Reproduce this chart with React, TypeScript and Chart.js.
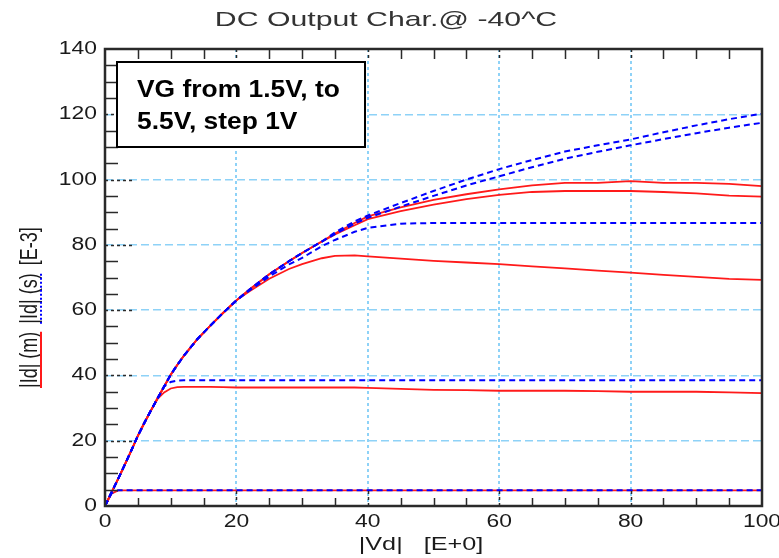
import React, { useEffect, useRef } from 'react';
import { Chart, registerables } from 'chart.js';

Chart.register(...registerables);

// ---------- data ----------
const chartTitle = 'DC Output Char.@ -40^C';
const xAxisTitle = '|Vd|   [E+0]';
const yAxisTitleParts = ['|Id| (m)', '|Id| (s)', '[E-3]'];
const legendLines = ['VG from 1.5V, to', '5.5V, step 1V'];
const xTicks = [0, 20, 40, 60, 80, 100];
const yTicks = [0, 20, 40, 60, 80, 100, 120, 140];

const vd = [0, 1, 2, 3, 4, 5, 6, 7, 8, 9, 10, 11, 12, 14, 16, 18, 20, 22, 25, 28, 30, 33, 35, 38, 40, 45, 50, 55, 60, 65, 70, 75, 80, 85, 90, 95, 100];

// measured |Id| (m) - red solid
const idM_VG15 = [0, 3.8, 4.8, 4.8, 4.8, 4.8, 4.8, 4.8, 4.8, 4.8, 4.8, 4.8, 4.8, 4.8, 4.8, 4.8, 4.8, 4.8, 4.8, 4.8, 4.8, 4.8, 4.8, 4.8, 4.8, 4.8, 4.8, 4.8, 4.8, 4.8, 4.8, 4.8, 4.8, 4.8, 4.8, 4.8, 4.8];
const idM_VG25 = [0, 4.2, 8.3, 12.6, 17, 21.5, 25.5, 29.3, 32.8, 34.8, 36, 36.4, 36.5, 36.5, 36.5, 36.4, 36.3, 36.3, 36.3, 36.3, 36.3, 36.3, 36.3, 36.3, 36.2, 35.9, 35.6, 35.5, 35.3, 35.3, 35.3, 35.2, 35.0, 35.0, 35.0, 34.8, 34.6];
const idM_VG35 = [0, 4.2, 8.3, 12.6, 17, 21.5, 25.5, 29.3, 33, 36.6, 40.2, 43.2, 46, 51, 55.2, 59.2, 63, 65.8, 69.6, 72.6, 74.1, 75.9, 76.6, 76.8, 76.5, 75.8, 75.1, 74.6, 74.1, 73.4, 72.8, 72.1, 71.5, 70.8, 70.2, 69.6, 69.3];
const idM_VG45 = [0, 4.2, 8.3, 12.6, 17, 21.5, 25.5, 29.3, 33, 36.6, 40.2, 43.2, 46, 51, 55.2, 59.2, 63, 66.3, 71, 75, 77.5, 81, 83.2, 86, 87.9, 90.3, 92.3, 94, 95.3, 96.2, 96.5, 96.5, 96.5, 96.2, 95.8, 95.1, 94.8];
const idM_VG55 = [0, 4.2, 8.3, 12.6, 17, 21.5, 25.5, 29.3, 33, 36.6, 40.2, 43.2, 46, 51, 55.2, 59.2, 63, 66.3, 71, 75, 77.5, 81, 83.5, 86.7, 88.7, 91.5, 93.8, 95.5, 97, 98.2, 99, 99, 99.5, 99, 99, 98.7, 98];

// simulated |Id| (s) - blue dashed
const idS_VG15 = [0, 3.9, 4.8, 4.8, 4.8, 4.8, 4.8, 4.8, 4.8, 4.8, 4.8, 4.8, 4.8, 4.8, 4.8, 4.8, 4.8, 4.8, 4.8, 4.8, 4.8, 4.8, 4.8, 4.8, 4.8, 4.8, 4.8, 4.8, 4.8, 4.8, 4.8, 4.8, 4.8, 4.8, 4.8, 4.8, 4.8];
const idS_VG25 = [0, 4.2, 8.3, 12.6, 17, 21.5, 25.5, 29.3, 33, 36.6, 38, 38.4, 38.5, 38.5, 38.5, 38.5, 38.5, 38.5, 38.5, 38.5, 38.5, 38.5, 38.5, 38.5, 38.5, 38.5, 38.5, 38.5, 38.5, 38.5, 38.5, 38.5, 38.5, 38.5, 38.5, 38.5, 38.5];
const idS_VG35 = [0, 4.2, 8.3, 12.6, 17, 21.5, 25.5, 29.3, 33, 36.6, 40.2, 43.2, 46, 51, 55.2, 59.2, 63, 66, 70.3, 74, 76, 79.6, 81.5, 84, 85.2, 86.5, 86.7, 86.7, 86.7, 86.7, 86.7, 86.7, 86.7, 86.7, 86.7, 86.7, 86.7];
const idS_VG45 = [0, 4.2, 8.3, 12.6, 17, 21.5, 25.5, 29.3, 33, 36.6, 40.2, 43.2, 46, 51, 55.2, 59.2, 63, 66.3, 71, 75, 77.5, 81, 83.3, 86.5, 88.3, 91.7, 95, 98.2, 101, 103.8, 106.4, 108.5, 110.5, 112.4, 114.2, 115.9, 117.4];
const idS_VG55 = [0, 4.2, 8.3, 12.6, 17, 21.5, 25.5, 29.3, 33, 36.6, 40.2, 43.2, 46, 51, 55.2, 59.2, 63, 66.3, 71, 75, 77.5, 81, 83.8, 87.2, 89, 92.8, 96.5, 100, 103.2, 106, 108.6, 110.5, 112.3, 114.5, 116.6, 118.5, 120.2];

const measuredSeries = [idM_VG15, idM_VG25, idM_VG35, idM_VG45, idM_VG55];
const simulatedSeries = [idS_VG15, idS_VG25, idS_VG35, idS_VG45, idS_VG55];
const seriesNames = ['VG=1.5V', 'VG=2.5V', 'VG=3.5V', 'VG=4.5V', 'VG=5.5V'];

// ---------- styling ----------
const RED = '#ff1a1a';
const BLUE = '#0000ff';
const GRID = '#8ed2f7';
const AXIS = '#2a2a2a';
const TEXT = '#1a1a1a';
const FONT = '"Liberation Sans", Arial, sans-serif';
const MINOR_STEP = 5;

function sText(
  ctx: CanvasRenderingContext2D,
  text: string,
  x: number,
  y: number,
  sx: number,
  align: CanvasTextAlign,
  baseline: CanvasTextBaseline
) {
  ctx.save();
  ctx.translate(x, y);
  ctx.scale(sx, 1);
  ctx.textAlign = align;
  ctx.textBaseline = baseline;
  ctx.fillText(text, 0, 0);
  ctx.restore();
}

const decorPlugin = {
  id: 'decor',
  afterDraw(chart: any) {
    const { ctx, chartArea: a, scales } = chart;
    const xs = scales.x;
    const ys = scales.y;
    ctx.save();

    // minor ticks (inward)
    ctx.strokeStyle = AXIS;
    ctx.lineWidth = 1.5;
    ctx.setLineDash([]);
    ctx.beginPath();
    for (let v = MINOR_STEP; v < 140; v += MINOR_STEP) {
      if (v % 20 === 0) continue;
      const y = Math.round(ys.getPixelForValue(v)) + 0.5;
      ctx.moveTo(a.left, y);
      ctx.lineTo(a.left + 13, y);
    }
    for (let v = MINOR_STEP; v < 100; v += MINOR_STEP) {
      if (v % 20 === 0) continue;
      const x = Math.round(xs.getPixelForValue(v)) + 0.5;
      ctx.moveTo(x, a.bottom);
      ctx.lineTo(x, a.bottom - 8);
      ctx.moveTo(x, a.top);
      ctx.lineTo(x, a.top + 10);
    }
    ctx.stroke();

    // major ticks (dark dashed)
    ctx.setLineDash([3, 3]);
    ctx.beginPath();
    yTicks.forEach((v) => {
      if (v === 0 || v === 140) return;
      const y = Math.round(ys.getPixelForValue(v)) + 0.5;
      ctx.moveTo(a.left, y);
      ctx.lineTo(a.left + 28, y);
    });
    xTicks.forEach((v) => {
      if (v === 0 || v === 100) return;
      const x = Math.round(xs.getPixelForValue(v)) + 0.5;
      ctx.moveTo(x, a.bottom);
      ctx.lineTo(x, a.bottom - 17);
      ctx.moveTo(x, a.top);
      ctx.lineTo(x, a.top + 10);
    });
    ctx.stroke();
    ctx.setLineDash([]);

    // frame
    ctx.strokeStyle = AXIS;
    ctx.lineWidth = 2.5;
    ctx.strokeRect(a.left, a.top, a.right - a.left, a.bottom - a.top);

    // tick labels
    ctx.fillStyle = TEXT;
    ctx.font = `18px ${FONT}`;
    yTicks.forEach((v) => {
      sText(ctx, String(v), a.left - 8, ys.getPixelForValue(v), 1.27, 'right', 'middle');
    });
    xTicks.forEach((v) => {
      sText(ctx, String(v), xs.getPixelForValue(v), a.bottom + 7, 1.27, 'center', 'top');
    });

    // title
    ctx.fillStyle = '#333';
    ctx.font = `21px ${FONT}`;
    sText(ctx, chartTitle, 386, 20, 1.44, 'center', 'middle');

    // x axis title
    ctx.fillStyle = TEXT;
    ctx.font = `18px ${FONT}`;
    sText(ctx, xAxisTitle, 421, 545, 1.4, 'center', 'middle');

    // y axis title (rotated) with coloured underlines
    ctx.font = `18px ${FONT}`;
    const gap = 8;
    let pos = 388;
    const spans: Array<[number, number]> = [];
    yAxisTitleParts.forEach((t) => {
      const w = ctx.measureText(t).width;
      ctx.save();
      ctx.translate(37, pos);
      ctx.scale(1.35, 1);
      ctx.rotate(-Math.PI / 2);
      ctx.textAlign = 'left';
      ctx.textBaseline = 'alphabetic';
      ctx.fillText(t, 0, 0);
      ctx.restore();
      spans.push([pos, pos - w]);
      pos -= w + gap;
    });
    ctx.lineWidth = 2;
    ctx.strokeStyle = RED;
    ctx.beginPath();
    ctx.moveTo(41, spans[0][0]);
    ctx.lineTo(41, spans[0][1]);
    ctx.stroke();
    ctx.strokeStyle = BLUE;
    ctx.setLineDash([2, 2]);
    ctx.beginPath();
    ctx.moveTo(41, spans[1][0]);
    ctx.lineTo(41, spans[1][1]);
    ctx.stroke();
    ctx.setLineDash([]);

    // legend box
    ctx.fillStyle = '#ffffff';
    ctx.fillRect(117, 62, 248, 85);
    ctx.strokeStyle = '#000';
    ctx.lineWidth = 2;
    ctx.strokeRect(117, 62, 248, 85);
    ctx.fillStyle = '#000';
    ctx.font = `bold 24px ${FONT}`;
    sText(ctx, legendLines[0], 137, 90, 1.1, 'left', 'middle');
    sText(ctx, legendLines[1], 137, 122, 1.1, 'left', 'middle');

    ctx.restore();
  },
};

export default function App() {
  const ref = useRef<HTMLCanvasElement>(null);

  useEffect(() => {
    document.body.style.margin = '0';
    const toPts = (ys: number[]) => vd.map((x, i) => ({ x, y: ys[i] }));
    const datasets: any[] = [];
    measuredSeries.forEach((s, i) => {
      datasets.push({
        label: `|Id| (m) ${seriesNames[i]}`,
        data: toPts(s),
        borderColor: RED,
        borderWidth: 1.8,
        pointRadius: 0,
        tension: 0,
        fill: false,
        order: 1,
      });
    });
    simulatedSeries.forEach((s, i) => {
      datasets.push({
        label: `|Id| (s) ${seriesNames[i]}`,
        data: toPts(s),
        borderColor: BLUE,
        borderWidth: 2,
        borderDash: [6, 4],
        pointRadius: 0,
        tension: 0,
        fill: false,
        order: 0,
      });
    });

    const chart = new Chart(ref.current as HTMLCanvasElement, {
      type: 'line',
      data: { datasets },
      options: {
        animation: false,
        responsive: false,
        devicePixelRatio: 1,
        layout: { padding: { left: 0, top: 49, right: 17, bottom: 0 } },
        plugins: {
          legend: { display: false },
          title: { display: false },
          tooltip: { enabled: false },
        },
        scales: {
          x: {
            type: 'linear',
            min: 0,
            max: 100,
            ticks: { stepSize: 20, display: false },
            grid: { color: GRID, lineWidth: 2, drawTicks: false },
            border: { display: false, dash: [3, 3] },
            afterFit: (s: any) => {
              s.height = 52;
            },
          },
          y: {
            type: 'linear',
            min: 0,
            max: 140,
            ticks: { stepSize: 20, display: false },
            grid: { color: GRID, lineWidth: 1.5, drawTicks: false },
            border: { display: false, dash: [8, 4] },
            afterFit: (s: any) => {
              s.width = 105;
            },
          },
        },
      } as any,
      plugins: [decorPlugin],
    });
    return () => chart.destroy();
  }, []);

  return (
    <div style={{ position: 'absolute', left: 0, top: 0, width: 779, height: 558, background: '#fff' }}>
      <canvas ref={ref} width={779} height={558} style={{ width: 779, height: 558, display: 'block' }} />
    </div>
  );
}
